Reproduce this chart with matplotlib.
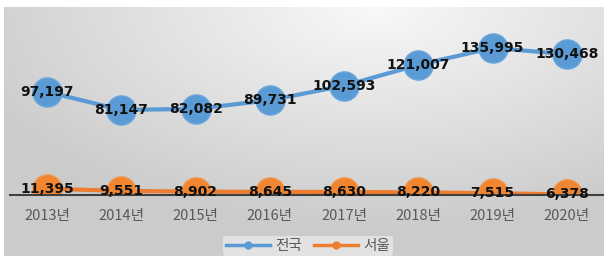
import matplotlib.pyplot as plt
import numpy as np
from matplotlib.lines import Line2D

years = ['2013년', '2014년', '2015년', '2016년', '2017년', '2018년', '2019년', '2020년']
national = [97197, 81147, 82082, 89731, 102593, 121007, 135995, 130468]
seoul = [11395, 9551, 8902, 8645, 8630, 8220, 7515, 6378]

plt.rcParams['font.family'] = ['Noto Sans CJK KR', 'DejaVu Sans']

fig = plt.figure(figsize=(6.04, 2.56), dpi=100)

# gradient background, light at top middle, gray toward the edges
bg = fig.add_axes([4 / 604, 0, 600 / 604, 249 / 256], zorder=-1)
yy, xx = np.mgrid[0:1:249j, 0:1:600j]
d = np.sqrt(((xx - 0.62) * 1.2) ** 2 + ((yy - 0.0) * 1.0) ** 2)
shade = np.clip(0.975 - 0.2 * d, 0.8, 1.0)
bg.imshow(np.dstack([shade, shade, shade]), aspect='auto', extent=[0, 1, 0, 1])
bg.axis('off')

ax = fig.add_axes([10 / 604, 61 / 256, 594 / 604, 175 / 256])
ax.patch.set_alpha(0)
x = np.arange(len(years))

ax.plot(x, national, color='#5b9bd5', lw=3, marker='o', ms=21,
        markerfacecolor='#5b9bd5', markeredgecolor='#6aa6dd', zorder=2)
ax.plot(x, seoul, color='#ed7d31', lw=3, marker='o', ms=21,
        markerfacecolor='#f08632', markeredgecolor='#f29448', zorder=2)

for i in x:
    ax.text(i, national[i], f'{national[i]:,}', ha='center', va='center',
            fontsize=10, fontweight='bold', family='DejaVu Sans', color='#111111', zorder=3)
    ax.text(i, seoul[i], f'{seoul[i]:,}', ha='center', va='center',
            fontsize=10, fontweight='bold', family='DejaVu Sans', color='#111111', zorder=3)

ax.set_xlim(-0.5, len(years) - 0.5)
ax.set_ylim(5900, 160700)
ax.set_xticks(x)
ax.set_xticklabels(years, fontsize=10.5, color='#595959')
ax.set_yticks([])
ax.tick_params(axis='x', length=0, pad=10)
for s in ['top', 'left', 'right']:
    ax.spines[s].set_visible(False)
ax.spines['bottom'].set_color('#404040')
ax.spines['bottom'].set_linewidth(1.5)

handles = [Line2D([], [], color='#5b9bd5', lw=2.5, marker='o', ms=5),
           Line2D([], [], color='#ed7d31', lw=2.5, marker='o', ms=5)]
leg = fig.legend(handles, ['전국', '서울'], loc='center', bbox_to_anchor=(0.51, 0.04),
                 ncol=2, frameon=True, fontsize=10.5, handlelength=3.0,
                 columnspacing=0.8, handletextpad=0.4, borderpad=0.2, borderaxespad=0.3)
leg.get_frame().set_facecolor('#e8e8e8')
leg.get_frame().set_edgecolor('none')
for t in leg.get_texts():
    t.set_color('#595959')

fig.savefig('out.png', dpi=100)
